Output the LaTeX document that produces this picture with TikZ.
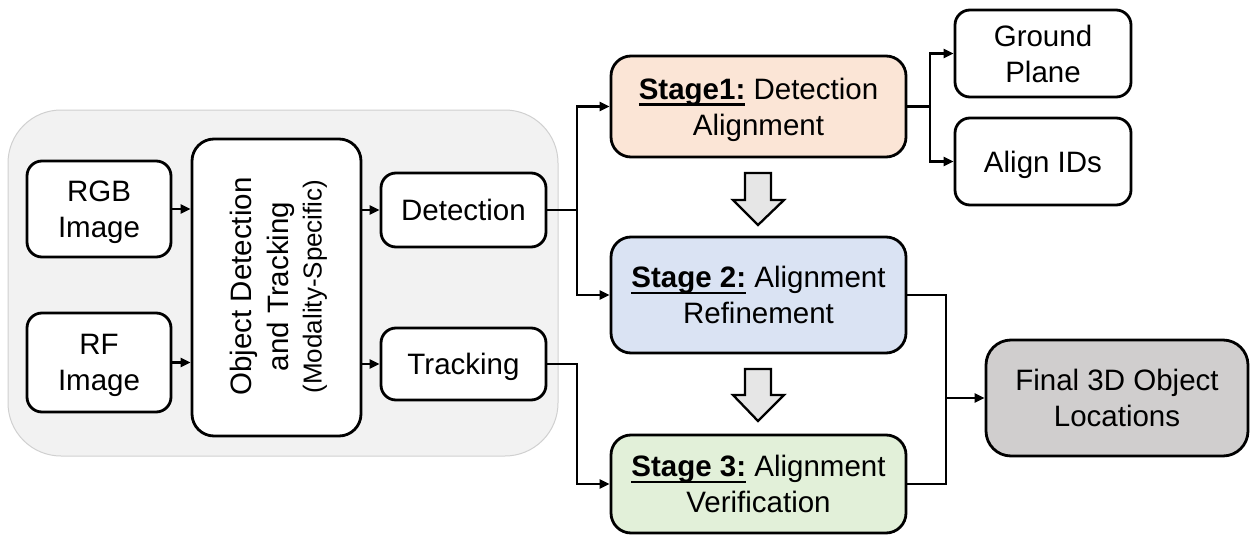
\documentclass[tikz,border=0pt]{standalone}
\usepackage{fontspec}
\setmainfont{Liberation Sans}
\usetikzlibrary{arrows.meta}
\definecolor{peach}{HTML}{FBE5D6}
\definecolor{lblue}{HTML}{DAE3F3}
\definecolor{lgreen}{HTML}{E2F0D9}
\definecolor{fgray}{HTML}{D0CECE}
\definecolor{bggray}{HTML}{F2F2F2}
\definecolor{bgborder}{HTML}{D0D0D0}
\definecolor{barrow}{HTML}{E6E6E6}
\newcommand\largefs{\fontsize{29.5}{36}\selectfont}
\newcommand\ulbold[1]{\setbox0\hbox{\textbf{#1}}\rlap{\rule[-6.5pt]{\wd0}{2.2pt}}\box0\relax}
\tikzset{
  box/.style={draw=black, line width=2.8pt, rounded corners=15pt, align=center, inner sep=0pt, fill=white, font=\largefs, text depth=0pt},
  conn/.style={draw=black, line width=2.3pt},
  arr/.style={conn, -{Triangle[length=10pt,width=9pt]}},
  blockarrow/.style={draw=black, line width=2.3pt, fill=barrow, line join=miter}
}
\begin{document}
\begin{tikzpicture}[x=1pt,y=-1pt]
\useasboundingbox (0,0) rectangle (1250,535);
% background panel
\node[draw=bgborder, line width=1pt, fill=bggray, rounded corners=53pt, minimum width=550pt, minimum height=346pt, inner sep=0pt] (panel) at (283,283) {};

\node[box, minimum width=144pt, minimum height=96pt] (rgb) at (99,209) {RGB\\Image};
\node[box, minimum width=144pt, minimum height=99pt] (rf) at (99,362.5) {RF\\Image};
\node[box, rounded corners=22pt, minimum width=169pt, minimum height=297pt] (od) at (276.5,287.5) {};
\node[rotate=90, align=center, inner sep=0pt, font=\fontsize{29.5}{36.6}\selectfont] (odt) at (278.7,286.5) {Object Detection\\and Tracking\\[-3.2pt]{\fontsize{26}{30}\selectfont (Modality-Specific)}};
\node[box, minimum width=165pt, minimum height=74pt] (det) at (463.5,210) {Detection};
\node[box, minimum width=165pt, minimum height=72pt] (trk) at (463.5,364) {Tracking};

\node[box, fill=peach, rounded corners=20pt, minimum width=295pt, minimum height=101pt] (s1) at (758.5,106.5) {\ulbold{Stage1:} Detection\\Alignment};
\node[box, fill=lblue, rounded corners=20pt, minimum width=295pt, minimum height=116pt] (s2) at (758.5,295) {\ulbold{Stage 2:} Alignment\\Refinement};
\node[box, fill=lgreen, rounded corners=20pt, minimum width=295pt, minimum height=98pt] (s3) at (758.5,484) {\ulbold{Stage 3:} Alignment\\Verification};

\node[box, minimum width=176pt, minimum height=87pt] (gp) at (1043,53.5) {Ground\\Plane};
\node[box, minimum width=176pt, minimum height=87pt] (aid) at (1043,161.5) {Align IDs};
\node[box, fill=fgray, rounded corners=25pt, minimum width=262pt, minimum height=116pt] (fin) at (1117,398) {Final 3D Object\\Locations};

% left connectors
\draw[arr] (rgb.east) -- (rgb.east -| od.west);
\draw[arr] (rf.east) -- (rf.east -| od.west);
\draw[arr] (det.west -| od.east) -- (det.west);
\draw[arr] (trk.west -| od.east) -- (trk.west);

% to stages
\coordinate (jd) at (577,210);
\coordinate (jt) at (577,364);
\draw[conn] (det.east) -- (jd);
\draw[arr] (jd) |- (s1.west);
\draw[arr] (jd) |- (s2.west);
\draw[arr] (trk.east) -- (jt) |- (s3.west);

% stage1 outputs
\coordinate (j1) at (930,106.5);
\draw[conn] (s1.east) -- (j1);
\draw[arr] (j1) |- (gp.west);
\draw[arr] (j1) |- (aid.west);

% stage2/3 to final
\coordinate (j2) at (946,295);
\coordinate (j3) at (946,484);
\coordinate (jf) at (946,398);
\draw[conn] (s2.east) -- (j2) -- (j3) -- (s3.east);
\draw[arr] (jf) -- (fin.west);

% block arrows
\draw[blockarrow] (745,173) -- (771,173) -- (771,200) -- (784,200) -- (758,225) -- (733,200) -- (745,200) -- cycle;
\draw[blockarrow] (745,369) -- (771,369) -- (771,395) -- (784,395) -- (758,421) -- (733,395) -- (745,395) -- cycle;
\end{tikzpicture}
\end{document}
